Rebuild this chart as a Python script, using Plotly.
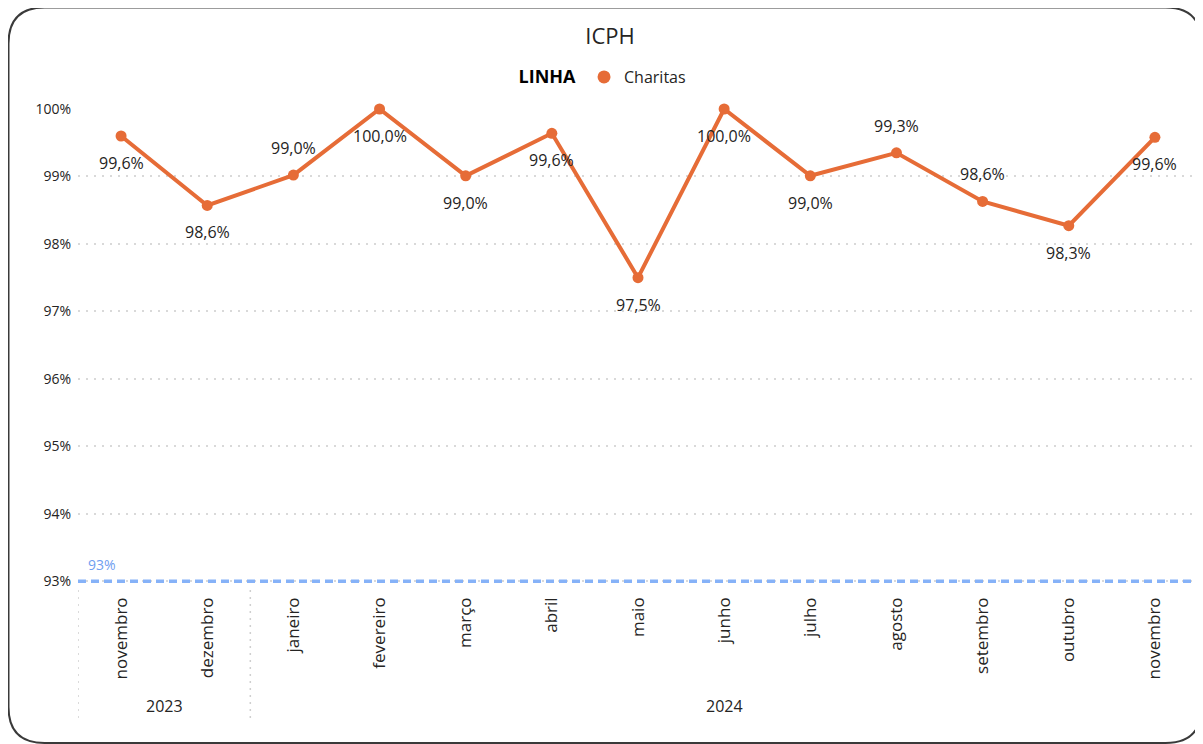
import plotly.graph_objects as go

# ---------------- data ----------------
months = ["novembro", "dezembro", "janeiro", "fevereiro", "março", "abril", "maio",
          "junho", "julho", "agosto", "setembro", "outubro", "novembro"]
years = ["2023", "2023", "2024", "2024", "2024", "2024", "2024",
         "2024", "2024", "2024", "2024", "2024", "2024"]
charitas = [99.6, 98.57, 99.02, 100.0, 99.01, 99.64, 97.5, 100.0, 99.01, 99.35, 98.63, 98.27, 99.58]
label_pos = ["below", "below", "above", "below", "below", "below", "below",
             "below", "below", "above", "above", "below", "below"]
target = 93.0
y_ticks = [93, 94, 95, 96, 97, 98, 99, 100]
y_range = [92.96, 100.0]

# ---------------- layout helpers ----------------
OFF = 8  # page body margin in the browser
W, H = 1203 - OFF, 744 - OFF
PL, PR, PT, PB = 78 - OFF, 1194 - OFF, 109 - OFF, 584 - OFF  # plot area in figure pixels
# x-axis range is widened on the right so the categories keep their spacing
x_extra = (1198 - 1194) / ((1198 - 78) / 13)


def px_x(p):  # screen pixel -> paper
    return (p - OFF - PL) / (PR - PL)


def px_y(p):
    return (PB - (p - OFF)) / (PB - PT)


FONT = "Segoe UI, Open Sans, sans-serif"
TXT = "#252423"
ORANGE = "#E66C37"
BLUE = "#86B2F8"

x = list(range(len(months)))

fig = go.Figure()
fig.add_trace(go.Scatter(
    x=x, y=charitas, mode="lines+markers", name="Charitas", showlegend=False,
    line=dict(color=ORANGE, width=4),
    marker=dict(color=ORANGE, size=11),
    cliponaxis=False,
))
# legend entry (marker only, like the reference legend)
fig.add_trace(go.Scatter(
    x=[None], y=[None], mode="markers", name="Charitas",
    marker=dict(color=ORANGE, size=13),
))

# data labels
for xi, v, pos in zip(x, charitas, label_pos):
    fig.add_annotation(
        x=xi, y=v, xref="x", yref="y",
        text=f"{v:.1f}%".replace(".", ","),
        showarrow=False, yshift=(27 if pos == "above" else -27),
        font=dict(family=FONT, size=16, color=TXT),
    )

# target line
fig.add_shape(type="line", xref="paper", yref="y", x0=0, x1=px_x(1191),
              y0=target, y1=target, line=dict(color=BLUE, width=3.5, dash="8px,5px"))
fig.add_annotation(x=px_x(86), y=target, xref="paper", yref="y", xanchor="left",
                   yanchor="bottom", yshift=5, showarrow=False, text="93%",
                   font=dict(family=FONT, size=14, color="#6F9EF0"))

# year groups
groups = []
for i, yv in enumerate(years):
    if not groups or groups[-1][0] != yv:
        groups.append([yv, i, i])
    else:
        groups[-1][2] = i
for yv, a, b in groups:
    fig.add_annotation(x=(a + b) / 2, y=px_y(706), xref="x", yref="paper",
                       yanchor="middle", text=yv, showarrow=False,
                       font=dict(family=FONT, size=16, color=TXT))
    fig.add_shape(type="line", xref="x", yref="paper", x0=a - 0.5, x1=a - 0.5,
                  y0=px_y(590), y1=px_y(722),
                  line=dict(color="#cfcfcf", width=1.5, dash="2px,5px"))

# rounded border
l, t, r, b, rad = 8.5, 7.5, 1201.5, 743, 36
path = (f"M {px_x(l + rad)},{px_y(t)} L {px_x(r - rad)},{px_y(t)} "
        f"Q {px_x(r)},{px_y(t)} {px_x(r)},{px_y(t + rad)} "
        f"L {px_x(r)},{px_y(b - rad)} Q {px_x(r)},{px_y(b)} {px_x(r - rad)},{px_y(b)} "
        f"L {px_x(l + rad)},{px_y(b)} Q {px_x(l)},{px_y(b)} {px_x(l)},{px_y(b - rad)} "
        f"L {px_x(l)},{px_y(t + rad)} Q {px_x(l)},{px_y(t)} {px_x(l + rad)},{px_y(t)} Z")
fig.add_shape(type="path", xref="paper", yref="paper", path=path,
              line=dict(color="#3a3a3a", width=2), layer="above")

fig.update_layout(
    width=W, height=H,
    margin=dict(l=PL, r=W - PR, t=PT, b=H - PB, autoexpand=False),
    paper_bgcolor="white", plot_bgcolor="white",
    font=dict(family=FONT, color=TXT),
    title=dict(text="ICPH", x=px_x(610), xanchor="center", xref="paper",
               y=1 - (36 - OFF) / H, yanchor="middle",
               font=dict(family=FONT, size=22, color=TXT)),
    showlegend=True,
    legend=dict(orientation="h", x=px_x(604), xanchor="center", y=px_y(77), yanchor="middle",
                title=dict(text="<b>LINHA</b>", font=dict(family=FONT, size=18, color="#000")),
                font=dict(family=FONT, size=16, color=TXT),
                itemwidth=30, bgcolor="rgba(0,0,0,0)", tracegroupgap=0),
    xaxis=dict(
        range=[-0.5, len(months) - 0.5 - x_extra], tickmode="array", tickvals=x, ticktext=months,
        tickangle=-90, showgrid=False, zeroline=False, showline=False, ticks="",
        tickfont=dict(family=FONT, size=17, color=TXT), ticklabelstandoff=9,
    ),
    yaxis=dict(
        range=y_range, tickmode="array", tickvals=y_ticks,
        ticktext=[f"{v}%" for v in y_ticks],
        showgrid=True, gridcolor="#d9d9d9", griddash="2px,6px", gridwidth=1.5,
        zeroline=False, showline=False, ticks="", ticklabelstandoff=6,
        tickfont=dict(family=FONT, size=14, color=TXT),
    ),
)

fig.write_html("out.html")
